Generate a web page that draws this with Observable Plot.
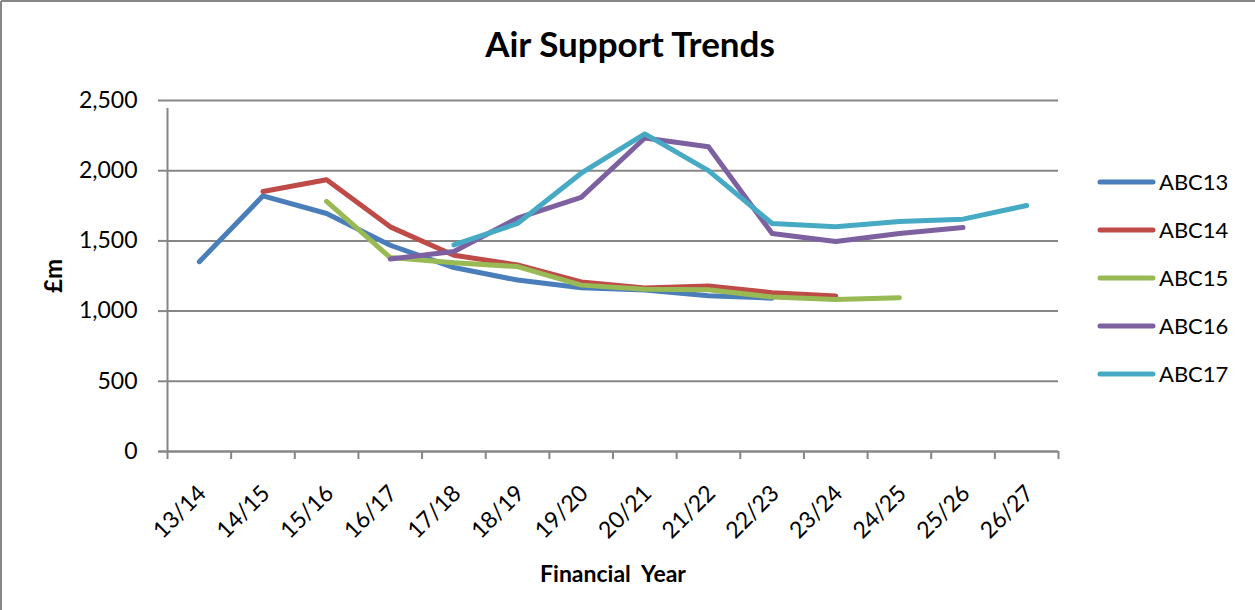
<!DOCTYPE html>
<html><head><meta charset="utf-8">
<script src="https://cdn.jsdelivr.net/npm/d3@7"></script>
<script src="https://cdn.jsdelivr.net/npm/@observablehq/plot@0.6"></script>
<style>
body{margin:0;background:#fff;}
#chart{position:relative;width:1255px;height:610px;}
</style>
</head><body><div id="chart"></div>
<script>
const categories = ["13/14","14/15","15/16","16/17","17/18","18/19","19/20","20/21","21/22","22/23","23/24","24/25","25/26","26/27"];
const ABC13 = [1352, 1821, 1695, 1469, 1310, 1221, 1167, 1150, 1110, 1092, null, null, null, null];
const ABC14 = [null, 1852, 1936, 1600, 1398, 1329, 1208, 1165, 1179, 1131, 1107, null, null, null];
const ABC15 = [null, null, 1781, 1381, 1345, 1317, 1185, 1155, 1152, 1100, 1083, 1095, null, null];
const ABC16 = [null, null, null, 1371, 1424, 1662, 1810, 2233, 2171, 1552, 1495, 1552, 1595, null];
const ABC17 = [null, null, null, null, 1471, 1624, 1982, 2262, 2000, 1624, 1600, 1638, 1655, 1752];
const seriesNames = ["ABC13","ABC14","ABC15","ABC16","ABC17"];
const seriesValues = [ABC13, ABC14, ABC15, ABC16, ABC17];
const seriesColors = ["#4A7EBB","#BE4B48","#98B954","#7D60A0","#46AAC5"];
const yTicks = [0, 500, 1000, 1500, 2000, 2500];
const titleText = "Air Support Trends";
const xLabel = "Financial\u00a0 Year";
const yLabel = "£m";

const rows = seriesNames.flatMap((s, k) =>
  seriesValues[k].map((v, i) => ({series: s, i, v})).filter(d => d.v != null));

const FONT = "Lato, 'Open Sans', sans-serif";
const GRID = "#868686";
const n = categories.length;

const chart = Plot.plot({
  width: 1255, height: 610,
  marginLeft: 167, marginRight: 197, marginTop: 100, marginBottom: 159,
  style: {fontFamily: FONT, background: "#fff", overflow: "visible"},
  x: {type: "linear", domain: [-0.5, n - 0.5]},
  y: {domain: [0, 2500]},
  color: {domain: seriesNames, range: seriesColors},
  marks: [
    Plot.gridY(yTicks, {stroke: GRID, strokeOpacity: 1, strokeWidth: 2}),
    Plot.axisY({ticks: yTicks, tickFormat: d3.format(","), tickSize: 9, tickPadding: 21, fontSize: 23, stroke: GRID, strokeWidth: 2, label: null, color: "#000"}),
    Plot.ruleX([-0.5], {y1: 0, y2: 2500, stroke: GRID, strokeWidth: 2, insetBottom: -8}),
    Plot.ruleY([0], {stroke: GRID, strokeWidth: 2, insetLeft: -9}),
    Plot.axisX({ticks: d3.range(-0.5, n, 1), tickFormat: () => "", tickSize: 8, stroke: GRID, strokeWidth: 2, label: null}),
    Plot.text(categories, {x: (d, i) => i, y: () => 0, text: d => d, rotate: -45, textAnchor: "end", dy: 38, dx: 3, fontSize: 23, fill: "#000"}),
    Plot.line(rows, {x: "i", y: "v", z: "series", stroke: "series", strokeWidth: 5, strokeLinecap: "round", strokeLinejoin: "round"})
  ]
});
document.getElementById("chart").appendChild(chart);

const svg = d3.select(chart);
// outer chart border (left and top visible)
svg.append("line").attr("x1", 1).attr("y1", 1).attr("x2", 1255).attr("y2", 1).attr("stroke", GRID).attr("stroke-width", 2);
svg.append("line").attr("x1", 1).attr("y1", 1).attr("x2", 1).attr("y2", 610).attr("stroke", GRID).attr("stroke-width", 2);
// title
svg.append("text").text(titleText).attr("x", 630).attr("y", 57).attr("text-anchor", "middle")
  .attr("font-family", FONT).attr("font-weight", "bold").attr("font-size", 35).attr("fill", "#000");
// x label
svg.append("text").text(xLabel).attr("x", 613).attr("y", 582).attr("text-anchor", "middle")
  .attr("font-family", FONT).attr("font-weight", "bold").attr("font-size", 23).attr("fill", "#000");
// y label
svg.append("text").text(yLabel).attr("transform", "translate(62,276) rotate(-90)").attr("text-anchor", "middle")
  .attr("font-family", FONT).attr("font-weight", "bold").attr("font-size", 24).attr("fill", "#000");
// legend
const lg = svg.append("g").attr("text-anchor", "start");
seriesNames.forEach((s, k) => {
  const y = 182 + k * 48;
  lg.append("line").attr("x1", 1100).attr("x2", 1153).attr("y1", y).attr("y2", y)
    .attr("stroke", seriesColors[k]).attr("stroke-width", 5).attr("stroke-linecap", "round");
  lg.append("text").text(s).attr("x", 1159).attr("y", y).attr("dy", "0.36em").attr("text-anchor", "start")
    .attr("font-family", FONT).attr("font-size", 22).attr("fill", "#000");
});
</script>
</body></html>
